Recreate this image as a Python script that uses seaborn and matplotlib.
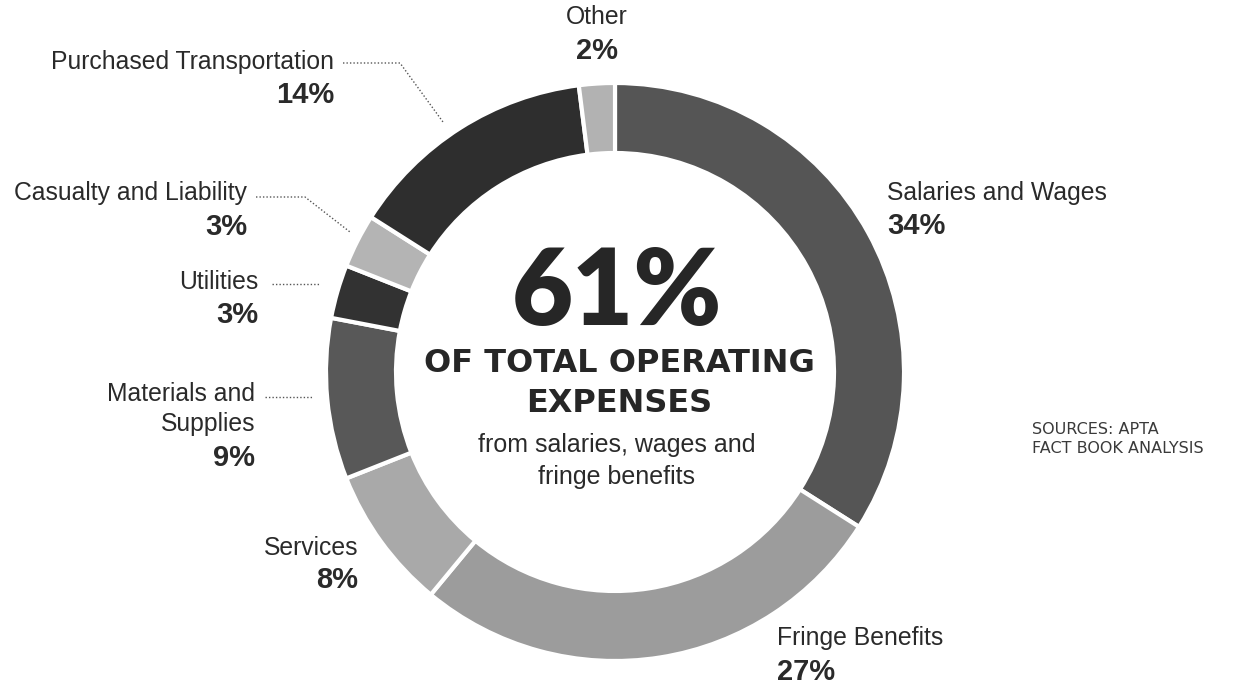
import matplotlib
matplotlib.use("Agg")
import matplotlib.pyplot as plt
import seaborn as sns

sns.set_theme(style="white")
plt.rcParams["font.family"] = ["Liberation Sans", "DejaVu Sans"]

# Operating expense shares (percent), clockwise from 12 o'clock
categories = ["Salaries and Wages", "Fringe Benefits", "Services",
              "Materials and\nSupplies", "Utilities", "Casualty and Liability",
              "Purchased Transportation", "Other"]
shares = [34, 27, 8, 9, 3, 3, 14, 2]
slice_grays = ["#555555", "#9c9c9c", "#a9a9a9", "#585858",
               "#323232", "#b4b4b4", "#2e2e2e", "#b2b2b2"]

headline_value = "61%"
headline_lines = ["OF TOTAL OPERATING", "EXPENSES"]
subline = "from salaries, wages and\nfringe benefits"
source_note = "SOURCES: APTA\nFACT BOOK ANALYSIS"

W, H = 1244, 689
fig = plt.figure(figsize=(W / 100, H / 100), dpi=100)
ax = fig.add_axes([0, 0, 1, 1])


def Y(y):
    return H - y


cx, cy, r_out, ring = 615, 372, 289, 70
ax.pie(shares, colors=slice_grays, startangle=90, counterclock=False,
       center=(cx, Y(cy)), radius=r_out, frame=True,
       wedgeprops=dict(width=ring, edgecolor="white", linewidth=3))
ax.set_xlim(0, W)
ax.set_ylim(0, H)
ax.set_aspect("equal")
ax.axis("off")

txt = "#2a2a2a"
name_fs, pct_fs = 17.8, 21


def label(x, y_name, y_pct, name, pct, ha):
    ax.text(x, Y(y_name), name, ha=ha, va="center", fontsize=name_fs,
            color=txt, linespacing=1.35)
    ax.text(x, Y(y_pct), f"{pct}%", ha=ha, va="center", fontsize=pct_fs,
            fontweight="bold", color=txt)


# Right and bottom labels
label(887, 193, 226, categories[0], shares[0], "left")
label(777, 638, 672, categories[1], shares[1], "left")
# Left labels
label(358, 548, 580, categories[2], shares[2], "right")
label(255, 409, 458, categories[3], shares[3], "right")
label(258, 282, 315, categories[4], shares[4], "right")
label(247, 193, 227, categories[5], shares[5], "right")
label(334, 62, 95, categories[6], shares[6], "right")
label(597, 17, 51, categories[7], shares[7], "center")

# Dotted leader lines
lead = dict(color="#555555", linewidth=1.0, linestyle=(0, (1, 1.5)))
ax.plot([343, 400, 443], [Y(63), Y(63), Y(122)], **lead)
ax.plot([256, 305, 350], [Y(197), Y(197), Y(232)], **lead)
ax.plot([272, 320], [Y(284), Y(284)], **lead)
ax.plot([265, 312], [Y(397), Y(397)], **lead)

# Centre headline
ax.text(617, Y(293), headline_value, ha="center", va="center", fontsize=76,
        fontweight="heavy", family=["Lato", "DejaVu Sans"], color="#262626")
ax.text(619, Y(364), headline_lines[0], ha="center", va="center", fontsize=23,
        fontweight="bold", family=["DejaVu Sans"], color="#262626")
ax.text(619, Y(404), headline_lines[1], ha="center", va="center", fontsize=23,
        fontweight="bold", family=["DejaVu Sans"], color="#262626")
ax.text(617, Y(461), subline, ha="center", va="center", fontsize=18,
        color=txt, linespacing=1.45)

ax.text(1032, Y(439), source_note, ha="left", va="center", fontsize=11.5,
        family=["DejaVu Sans"], color="#3a3a3a", linespacing=1.35)

fig.savefig("out.png", dpi=100, facecolor="white")
